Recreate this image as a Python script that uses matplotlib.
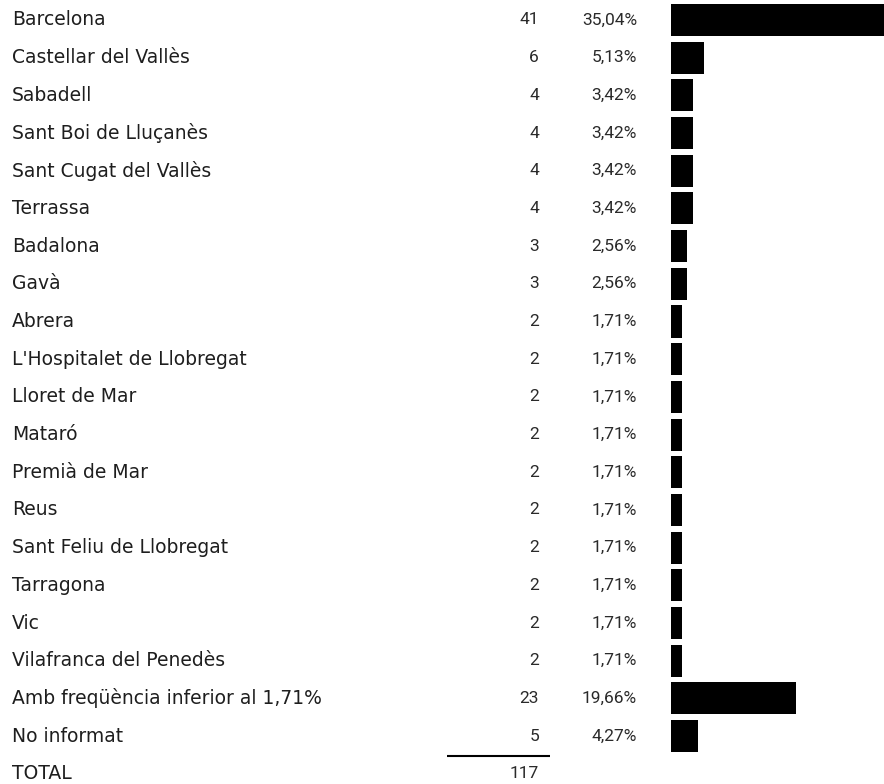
import matplotlib
matplotlib.use("Agg")
import matplotlib.pyplot as plt

municipis = [
    "Barcelona", "Castellar del Vallès", "Sabadell", "Sant Boi de Lluçanès",
    "Sant Cugat del Vallès", "Terrassa", "Badalona", "Gavà", "Abrera",
    "L'Hospitalet de Llobregat", "Lloret de Mar", "Mataró", "Premià de Mar",
    "Reus", "Sant Feliu de Llobregat", "Tarragona", "Vic",
    "Vilafranca del Penedès", "Amb freqüència inferior al 1,71%", "No informat",
]
freq = [41, 6, 4, 4, 4, 4, 3, 3, 2, 2, 2, 2, 2, 2, 2, 2, 2, 2, 23, 5]
percent = ["35,04%", "5,13%", "3,42%", "3,42%", "3,42%", "3,42%", "2,56%",
           "2,56%", "1,71%", "1,71%", "1,71%", "1,71%", "1,71%", "1,71%",
           "1,71%", "1,71%", "1,71%", "1,71%", "19,66%", "4,27%"]
total_label = "TOTAL"
total = 117

W, H = 884, 784
fig = plt.figure(figsize=(W / 100, H / 100), dpi=100)

row_top = -0.53
row_bot = 20.27

# table axes: x in pixel units, y in row units
tab = fig.add_axes([0, 0, 1, 1])
tab.set_xlim(0, W)
tab.set_ylim(row_bot, row_top)
tab.axis("off")

label_font = dict(family=["DejaVu Sans"], size=13.5, color="#1e1e1e")
num_font = dict(family=["Roboto", "DejaVu Sans"], size=12.5, color="#2a2a2a")

for i, (name, n, p) in enumerate(zip(municipis, freq, percent)):
    tab.text(12, i, name, ha="left", va="center", **label_font)
    tab.text(539, i, str(n), ha="right", va="center", **num_font)
    tab.text(637, i, p, ha="right", va="center", **num_font)

n_rows = len(municipis)
tab.text(12, n_rows, total_label, ha="left", va="center", **label_font)
tab.text(539, n_rows, str(total), ha="right", va="center", **num_font)
tab.plot([447, 550], [n_rows - 0.47, n_rows - 0.47], color="black", lw=1.5,
         solid_capstyle="butt")

# bar axes: x in counts
bar_left = 671
px_per_unit = 5.42
bx = fig.add_axes([bar_left / W, 0, (W - bar_left) / W, 1])
bx.set_xlim(0, (W - bar_left) / px_per_unit)
bx.set_ylim(row_bot, row_top)
bx.barh(range(n_rows), freq, height=0.85, color="black", left=0)
bx.axis("off")

fig.savefig("out.png", dpi=100, facecolor="white")
